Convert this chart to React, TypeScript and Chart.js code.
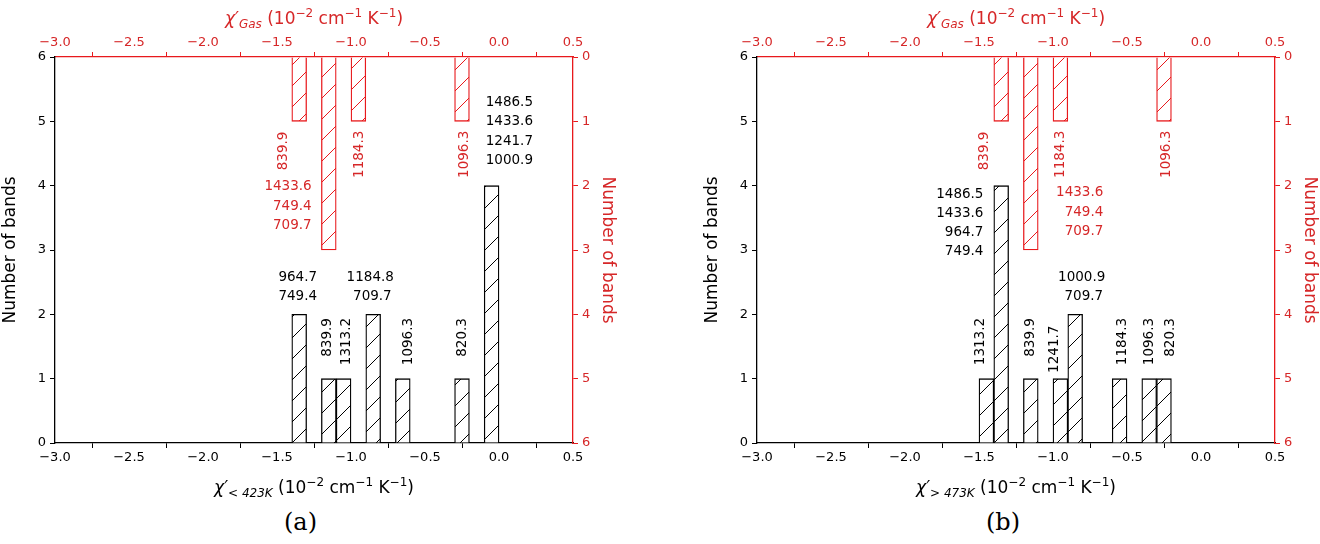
import { useEffect, useRef } from 'react';
import { Chart, registerables } from 'chart.js';

Chart.register(...registerables);

// bin centres (width 0.1) and counts
const binsA = [-1.35, -1.15, -1.05, -0.85, -0.65, -0.25, -0.05];
const countsA = [2, 1, 1, 2, 1, 1, 4];
const binsB = [-1.45, -1.35, -1.15, -0.95, -0.85, -0.55, -0.35, -0.25];
const countsB = [1, 4, 1, 1, 2, 1, 1, 1];
const binsGas = [-1.35, -1.15, -0.95, -0.25];
const countsGas = [1, 3, 1, 1];

// labels: [x, y, text lines, mode] mode: 'v' vertical, 'c' centred stack, 'r' right-aligned stack
type Lbl = [number, number, string[], string];
const labelsA: Lbl[] = [
  [-1.36, 2.58, ['964.7', '749.4'], 'c'],
  [-1.16, 1.34, ['839.9'], 'v'],
  [-1.03, 1.21, ['1313.2'], 'v'],
  [-0.87, 2.58, ['1184.8', ' 709.7'], 'c'],
  [-0.61, 1.21, ['1096.3'], 'v'],
  [-0.25, 1.34, ['820.3'], 'v'],
  [0.07, 5.29, ['1486.5', '1433.6', '1241.7', '1000.9'], 'c'],
];
const gasLabelsA: Lbl[] = [
  [-1.457, 1.76, ['839.9'], 'v'],
  [-1.266, 2.02, ['1433.6', '749.4', '709.7'], 'r'],
  [-0.944, 1.88, ['1184.3'], 'v'],
  [-0.236, 1.88, ['1096.3'], 'v'],
];
const labelsB: Lbl[] = [
  [-1.49, 1.21, ['1313.2'], 'v'],
  [-1.47, 3.87, ['1486.5', '1433.6', '964.7', '749.4'], 'r'],
  [-1.155, 1.34, ['839.9'], 'v'],
  [-0.993, 1.09, ['1241.7'], 'v'],
  [-0.806, 2.58, ['1000.9', ' 709.7'], 'c'],
  [-0.53, 1.21, ['1184.3'], 'v'],
  [-0.345, 1.21, ['1096.3'], 'v'],
  [-0.205, 1.34, ['820.3'], 'v'],
];
const gasLabelsB: Lbl[] = [
  [-1.46, 1.76, ['839.9'], 'v'],
  [-0.948, 1.88, ['1184.3'], 'v'],
  [-0.66, 2.11, ['1433.6', '749.4', '709.7'], 'r'],
  [-0.23, 1.88, ['1096.3'], 'v'],
];

const RED = '#e8191c';
const RED_TXT = '#d62728';
const FONT = '"DejaVu Sans", sans-serif';

function hatch(color: string) {
  const c = document.createElement('canvas');
  c.width = 21;
  c.height = 21;
  const g = c.getContext('2d')!;
  g.fillStyle = 'white';
  g.fillRect(0, 0, 21, 21);
  g.strokeStyle = color;
  g.lineWidth = 1;
  g.beginPath();
  g.moveTo(-2, 23);
  g.lineTo(23, -2);
  g.stroke();
  return g.createPattern(c, 'repeat')!;
}

const fmt = (v: any) => Number(v).toFixed(1).replace('-', '\u2212');

function drawParts(ctx: CanvasRenderingContext2D, cx: number, cy: number, parts: [string, number, number, boolean][], color: string) {
  // parts: text, size, baseline shift, italic
  let w = 0;
  for (const p of parts) {
    ctx.font = `${p[3] ? 'italic ' : ''}${p[1]}px ${FONT}`;
    w += ctx.measureText(p[0]).width;
  }
  let x = cx - w / 2;
  ctx.fillStyle = color;
  ctx.textAlign = 'left';
  ctx.textBaseline = 'alphabetic';
  for (const p of parts) {
    ctx.font = `${p[3] ? 'italic ' : ''}${p[1]}px ${FONT}`;
    ctx.fillText(p[0], x, cy + p[2]);
    x += ctx.measureText(p[0]).width;
  }
}

function Panel({ bins, counts, labels, gasLabels, sub }: { bins: number[]; counts: number[]; labels: Lbl[]; gasLabels: Lbl[]; sub: string }) {
  const ref = useRef<HTMLCanvasElement>(null);
  useEffect(() => {
    if (!ref.current) return;
    const unitsPlugin = {
      id: 'extras',
      afterDraw(chart: any) {
        const ctx = chart.ctx as CanvasRenderingContext2D;
        const { x, y, x2, y2 } = chart.scales;
        ctx.save();
        const put = (list: Lbl[], xs: any, ys: any, color: string) => {
          ctx.font = `13.5px ${FONT}`;
          ctx.fillStyle = color;
          for (const [lx, ly, lines, mode] of list) {
            const px = xs.getPixelForValue(lx);
            const py = ys.getPixelForValue(ly);
            if (mode === 'v') {
              ctx.save();
              ctx.translate(px, py);
              ctx.rotate(-Math.PI / 2);
              ctx.textAlign = 'left';
              ctx.textBaseline = 'middle';
              ctx.fillText(lines[0], 0, 0);
              ctx.restore();
            } else {
              ctx.textAlign = mode === 'r' ? 'right' : 'center';
              ctx.textBaseline = 'middle';
              lines.forEach((t, i) => ctx.fillText(t, px, py + i * 19.3));
            }
          }
        };
        put(labels, x, y, 'black');
        put(gasLabels, x2, y2, RED_TXT);
        const cx = (chart.chartArea.left + chart.chartArea.right) / 2;
        drawParts(ctx, cx, 493, [['\u03c7\u2032', 17, 0, true], [sub, 12, 4, true], [' (10', 17, 0, false], ['\u22122', 12, -7, false], [' cm', 17, 0, false], ['\u22121', 12, -7, false], [' K', 17, 0, false], ['\u22121', 12, -7, false], [')', 17, 0, false]], 'black');
        drawParts(ctx, cx, 24, [['\u03c7\u2032', 17, 0, true], ['Gas', 12, 4, true], [' (10', 17, 0, false], ['\u22122', 12, -7, false], [' cm', 17, 0, false], ['\u22121', 12, -7, false], [' K', 17, 0, false], ['\u22121', 12, -7, false], [')', 17, 0, false]], RED_TXT);
        ctx.restore();
      },
    };
    const xTicks = { stepSize: 0.5, callback: fmt, font: { size: 13, family: FONT }, maxRotation: 0, padding: 2 };
    const yTicks = { stepSize: 1, font: { size: 13, family: FONT }, padding: 4 };
    const chart = new Chart(ref.current, {
      type: 'bar',
      data: {
        datasets: [
          {
            data: bins.map((b, i) => ({ x: b, y: counts[i] })),
            xAxisID: 'x', yAxisID: 'y',
            backgroundColor: hatch('black'), borderColor: 'black', borderWidth: 1.3,
            barThickness: 14.8, grouped: false,
          },
          {
            data: binsGas.map((b, i) => ({ x: b, y: countsGas[i] })),
            xAxisID: 'x2', yAxisID: 'y2',
            backgroundColor: hatch(RED), borderColor: RED, borderWidth: 1.3,
            barThickness: 14.8, grouped: false,
          },
        ],
      },
      options: {
        animation: false,
        responsive: false,
        events: [],
        plugins: { legend: { display: false }, tooltip: { enabled: false } },
        layout: { padding: 0 },
        scales: {
          x: {
            type: 'linear', position: 'bottom', min: -3, max: 0.5, offset: false,
            ticks: { ...xTicks, color: 'black' },
            grid: { drawOnChartArea: false, tickLength: 5, color: 'black' },
            border: { color: 'black', width: 1.3 },
            afterFit: (s: any) => { s.height = 57; },
          },
          x2: {
            type: 'linear', position: 'top', min: -3, max: 0.5, offset: false,
            ticks: { ...xTicks, color: RED_TXT },
            grid: { drawOnChartArea: false, tickLength: 5, color: RED },
            border: { color: RED, width: 1.3 },
            afterFit: (s: any) => { s.height = 57; },
          },
          y: {
            position: 'left', min: 0, max: 6,
            ticks: { ...yTicks, color: 'black' },
            grid: { drawOnChartArea: false, tickLength: 5, color: 'black' },
            border: { color: 'black', width: 1.3 },
            title: { display: true, text: 'Number of bands', color: 'black', font: { size: 17, family: FONT }, padding: 0 },
            afterFit: (s: any) => { s.width = 55; },
          },
          y2: {
            position: 'right', min: 0, max: 6, reverse: true,
            ticks: { ...yTicks, color: RED_TXT },
            grid: { drawOnChartArea: false, tickLength: 5, color: RED },
            border: { color: RED, width: 1.3 },
            title: { display: true, text: 'Number of bands', color: RED_TXT, font: { size: 17, family: FONT }, padding: 0 },
            afterFit: (s: any) => { s.width = 45; },
          },
        },
      } as any,
      plugins: [unitsPlugin],
    });
    return () => chart.destroy();
  }, [bins, counts, labels, gasLabels, sub]);
  return <canvas ref={ref} width={618} height={500} style={{ display: 'block' }} />;
}

export default function App() {
  return (
    <div style={{ position: 'absolute', left: 0, top: 0, width: 1320, height: 544, background: 'white' }}>
      <div style={{ position: 'absolute', left: 0, top: 0 }}>
        <Panel bins={binsA} counts={countsA} labels={labelsA} gasLabels={gasLabelsA} sub="< 423K" />
      </div>
      <div style={{ position: 'absolute', left: 702, top: 0 }}>
        <Panel bins={binsB} counts={countsB} labels={labelsB} gasLabels={gasLabelsB} sub="> 473K" />
      </div>
      <div style={{ position: 'absolute', left: 284, top: 508, fontSize: 24, fontFamily: '"DejaVu Serif", serif' }}>(a)</div>
      <div style={{ position: 'absolute', left: 986, top: 508, fontSize: 24, fontFamily: '"DejaVu Serif", serif' }}>(b)</div>
    </div>
  );
}
